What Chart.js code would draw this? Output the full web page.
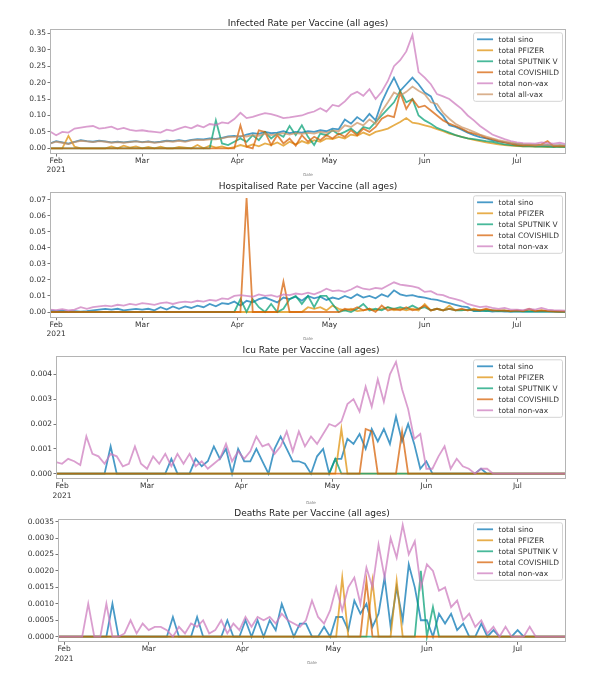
<!DOCTYPE html>
<html><head><meta charset="utf-8">
<script src="https://cdn.jsdelivr.net/npm/chart.js@4.4.1/dist/chart.umd.min.js"></script>
<style>
html,body{margin:0;padding:0;background:#fff;}
#wrap{position:relative;width:600px;height:674px;overflow:hidden;background:#fff;}
canvas{position:absolute;left:0;}
</style></head><body>
<div id="wrap">
<canvas id="c1" width="600" height="180" style="top:0px"></canvas>
<canvas id="c2" width="600" height="180" style="top:163px"></canvas>
<canvas id="c3" width="600" height="180" style="top:327px"></canvas>
<canvas id="c4" width="600" height="184" style="top:490px"></canvas>
</div>
<script>
// ---- categories (dates, every 2 days) ----
const dates = ['01-30','02-01','02-03','02-05','02-07','02-09','02-11','02-13','02-15','02-17',
'02-19','02-21','02-23','02-25','02-27','03-01','03-03','03-05','03-07','03-09',
'03-11','03-13','03-15','03-17','03-19','03-21','03-23','03-25','03-27','03-29',
'03-31','04-02','04-04','04-06','04-08','04-10','04-12','04-14','04-16','04-18',
'04-20','04-22','04-24','04-26','04-28','04-30','05-02','05-04','05-06','05-08',
'05-10','05-12','05-14','05-16','05-18','05-20','05-22','05-24','05-26','05-28',
'05-30','06-01','06-03','06-05','06-07','06-09','06-11','06-13','06-15','06-17',
'06-19','06-21','06-23','06-25','06-27','06-29','07-01','07-03','07-05','07-07',
'07-09','07-11','07-13','07-15','07-17'];
const monthTickDates = ['02-01','03-01','04-01','05-01','06-01','07-01'];
const monthTickLabels = [['Feb','2021'],'Mar','Apr','May','Jun','Jul'];
const seriesNames = ['total sino','total PFIZER','total SPUTNIK V','total COVISHILD','total non-vax','total all-vax'];

// ---- y tick labels ----
const yTicksInfected = [0,0.05,0.10,0.15,0.20,0.25,0.30,0.35];
const yTicksHosp = [0,0.01,0.02,0.03,0.04,0.05,0.06,0.07];
const yTicksIcu = [0,0.001,0.002,0.003,0.004];
const yTicksDeaths = [0,0.0005,0.0010,0.0015,0.0020,0.0025,0.0030,0.0035];

// ---- Infected ----
const infSino = [0.015,0.022,0.018,0.014,0.020,0.025,0.022,0.020,0.023,0.021,
0.018,0.020,0.018,0.020,0.022,0.019,0.021,0.018,0.020,0.023,
0.022,0.025,0.022,0.026,0.028,0.027,0.030,0.029,0.032,0.036,
0.038,0.035,0.042,0.046,0.044,0.050,0.046,0.048,0.052,0.046,
0.050,0.048,0.052,0.050,0.055,0.052,0.060,0.058,0.088,0.075,
0.095,0.082,0.105,0.085,0.140,0.180,0.215,0.175,0.195,0.215,
0.195,0.170,0.158,0.118,0.098,0.070,0.065,0.057,0.048,0.040,
0.034,0.030,0.025,0.021,0.018,0.015,0.013,0.011,0.010,0.010,
0.009,0.010,0.008,0.009,0.008];
const infPfizer = [0,0,0,0.038,0.005,0,0,0,0,0,
0.006,0,0.008,0.002,0.006,0,0.004,0,0.005,0,
0,0.004,0.002,0,0.010,0,0.008,0.002,0.006,0,
0.004,0.010,0.005,0.012,0.006,0.015,0.010,0.018,0.008,0.020,
0.012,0.022,0.015,0.025,0.020,0.030,0.028,0.035,0.030,0.042,
0.038,0.048,0.040,0.050,0.055,0.060,0.070,0.080,0.092,0.078,
0.075,0.070,0.065,0.058,0.052,0.045,0.040,0.035,0.030,0.026,
0.022,0.018,0.015,0.012,0.010,0.008,0.007,0.006,0.006,0.005,
0.005,0.004,0.005,0.004,0.004];
const infSputnik = [0,0,0,0,0,0,0,0,0,0,
0,0,0,0,0,0,0,0,0,0,
0,0,0,0,0,0,0,0.085,0.015,0.010,
0.020,0.030,0.020,0.040,0.025,0.050,0.030,0.045,0.035,0.068,
0.040,0.070,0.035,0.010,0.045,0.040,0.055,0.042,0.050,0.060,
0.045,0.065,0.060,0.080,0.100,0.120,0.140,0.175,0.140,0.150,
0.100,0.085,0.075,0.062,0.055,0.048,0.040,0.035,0.030,0.028,
0.025,0.022,0.020,0.016,0.012,0.010,0.008,0.006,0.007,0.005,
0.006,0.005,0.004,0.005,0.004];
const infCovishild = [0,0,0,0,0,0,0,0,0,0,
0,0,0,0,0,0,0,0,0,0,
0,0,0,0,0,0,0,0,0,0,
0,0.070,0.005,0,0.055,0.050,0.010,0.040,0.015,0.030,
0.008,0.040,0.020,0.035,0.025,0.040,0.030,0.045,0.035,0.055,
0.040,0.060,0.050,0.065,0.090,0.100,0.095,0.170,0.120,0.150,
0.125,0.130,0.115,0.100,0.085,0.075,0.068,0.060,0.050,0.045,
0.040,0.032,0.028,0.022,0.018,0.014,0.010,0.008,0.010,0.008,
0.012,0.022,0.006,0.008,0.006];
const infNonvax = [0.051,0.040,0.050,0.048,0.060,0.063,0.066,0.068,0.060,0.062,
0.066,0.058,0.062,0.056,0.053,0.055,0.052,0.050,0.048,0.057,
0.053,0.060,0.066,0.061,0.070,0.064,0.074,0.071,0.079,0.076,
0.089,0.108,0.092,0.096,0.102,0.107,0.104,0.099,0.092,0.094,
0.097,0.100,0.107,0.112,0.122,0.112,0.132,0.128,0.143,0.163,
0.172,0.160,0.180,0.150,0.172,0.205,0.250,0.268,0.295,0.345,
0.232,0.215,0.195,0.165,0.158,0.150,0.135,0.120,0.100,0.085,
0.068,0.055,0.042,0.035,0.028,0.022,0.018,0.016,0.015,0.014,
0.018,0.016,0.014,0.017,0.013];
const infAllvax = [0.014,0.020,0.017,0.013,0.019,0.023,0.021,0.019,0.022,0.020,
0.017,0.019,0.017,0.019,0.021,0.018,0.020,0.017,0.019,0.022,
0.020,0.023,0.020,0.024,0.026,0.025,0.027,0.027,0.030,0.035,
0.035,0.038,0.036,0.040,0.038,0.045,0.040,0.043,0.046,0.042,
0.046,0.044,0.047,0.045,0.050,0.047,0.054,0.052,0.070,0.065,
0.078,0.070,0.088,0.075,0.112,0.140,0.170,0.160,0.172,0.188,
0.175,0.165,0.140,0.135,0.108,0.090,0.075,0.065,0.058,0.050,
0.042,0.036,0.030,0.025,0.021,0.017,0.014,0.012,0.011,0.010,
0.010,0.010,0.009,0.009,0.008];

// ---- Hospitalised ----
const hospSino = [0.0010,0.0005,0.0008,0.0003,0.0005,0.0002,0.0005,0.0010,0.0015,0.0020,
0.0015,0.0020,0.0010,0.0015,0.0020,0.0015,0.0020,0.0010,0.0030,0.0015,
0.0035,0.0020,0.0035,0.0025,0.0040,0.0030,0.0050,0.0035,0.0055,0.0050,
0.0065,0.0040,0.0070,0.0060,0.0080,0.0090,0.0075,0.0060,0.0090,0.0080,
0.0095,0.0070,0.0100,0.0085,0.0095,0.0075,0.0090,0.0080,0.0100,0.0085,
0.0110,0.0090,0.0100,0.0085,0.0110,0.0095,0.0135,0.0110,0.0100,0.0105,
0.0095,0.0090,0.0080,0.0075,0.0065,0.0055,0.0045,0.0035,0.0030,0.0005,
0.0005,0.0008,0.0003,0.0005,0.0003,0.0004,0.0002,0.0003,0.0002,0.0002,
0.0003,0.0002,0.0002,0.0001,0.0001];
const hospPfizer = [0,0,0,0,0,0,0,0,0,0,
0,0,0,0,0,0,0,0,0,0,
0,0,0,0,0,0,0,0,0,0,
0,0,0,0,0,0,0,0,0,0,
0,0,0.003,0.002,0.003,0.001,0.004,0.002,0.001,0.002,
0.0005,0.001,0.002,0.001,0.002,0.003,0.001,0.002,0.001,0.002,
0.001,0.005,0.001,0.002,0.001,0.004,0.001,0.0015,0.001,0.002,
0.001,0.0015,0.001,0.0008,0.001,0.0005,0.0008,0.0005,0.0015,0.0005,
0.001,0.0005,0.0005,0.0003,0.0003];
const hospSputnik = [0,0,0,0,0,0,0,0,0,0,
0,0,0,0,0,0,0,0,0,0,
0,0,0,0,0,0,0,0,0,0,
0,0.008,0,0.008,0.003,0,0.005,0,0.002,0.008,
0.010,0.005,0.010,0.003,0.010,0.010,0.005,0,0.001,0,
0.002,0.005,0.001,0.002,0.001,0.003,0.002,0.003,0.002,0.004,
0.002,0.003,0.001,0.002,0.001,0.002,0.001,0.001,0.0015,0.0008,
0.001,0.0005,0.001,0.0005,0.0008,0.0003,0.0005,0.0003,0.0003,0.0002,
0.0003,0.0002,0.0002,0.0001,0.0001];
const hospCovishild = [0,0,0,0,0,0,0,0,0,0,
0,0,0,0,0,0,0,0,0,0,
0,0,0,0,0,0,0,0,0,0,
0,0,0.071,0,0,0,0,0,0.019,0,
0,0,0,0,0,0,0,0,0.002,0.001,
0.003,0.001,0.002,0,0.004,0.001,0.002,0.001,0.003,0.001,
0.002,0.004,0.001,0.002,0.001,0.002,0.001,0.002,0.001,0.0015,
0.001,0.002,0.001,0.001,0.0008,0.0005,0.001,0.0005,0.002,0.0005,
0.001,0.0005,0.0003,0.0003,0.0002];
const hospNonvax = [0.0015,0.0012,0.0018,0.0010,0.0015,0.0030,0.0020,0.0030,0.0035,0.0040,
0.0035,0.0045,0.0040,0.0050,0.0045,0.0055,0.0050,0.0045,0.0055,0.0060,
0.0050,0.0060,0.0065,0.0060,0.0070,0.0065,0.0075,0.0070,0.0085,0.0080,
0.0100,0.0105,0.0100,0.0095,0.0110,0.0100,0.0105,0.0095,0.0110,0.0105,
0.0115,0.0110,0.0120,0.0110,0.0125,0.0145,0.0130,0.0135,0.0125,0.0140,
0.0160,0.0145,0.0140,0.0150,0.0145,0.0165,0.0185,0.0170,0.0165,0.0160,
0.0150,0.0125,0.0130,0.0110,0.0105,0.0090,0.0080,0.0070,0.0050,0.0040,
0.0030,0.0035,0.0025,0.0020,0.0025,0.0015,0.0015,0.0012,0.0020,0.0015,
0.0025,0.0015,0.0012,0.0010,0.0008];

// ---- ICU ----
const icuSino = [0,0,0,0,0,0,0,0,0,0.0011,
0,0,0,0,0,0,0,0,0,0.0006,
0,0,0,0.0006,0.0003,0.0005,0.0011,0.0006,0.0010,0,
0.0010,0.0005,0.0005,0.0010,0.0005,0,0.0010,0.0015,0.0010,0.0005,
0.0005,0.0004,0,0.0007,0.0010,0,0.0006,0.0006,0.0014,0.0012,
0.0016,0.0010,0.0018,0.0013,0.0018,0.0012,0.0023,0.0013,0.0020,0.0012,
0.0002,0.0005,0,0,0,0,0,0,0,0,
0.0002,0,0,0,0,0,0,0,0,0,
0,0,0,0,0];
const icuPfizer = [0,0,0,0,0,0,0,0,0,0,
0,0,0,0,0,0,0,0,0,0,
0,0,0,0,0,0,0,0,0,0,
0,0,0,0,0,0,0,0,0,0,
0,0,0,0,0,0,0,0.0018,0,0,
0,0,0,0,0,0,0,0,0,0,
0,0,0,0,0,0,0,0,0,0,
0,0,0,0,0,0,0,0,0,0,
0,0,0,0,0];
const icuSputnik = [0,0,0,0,0,0,0,0,0,0,
0,0,0,0,0,0,0,0,0,0,
0,0,0,0,0,0,0,0,0,0,
0,0,0,0,0,0,0,0,0,0,
0,0,0,0,0,0,0.0006,0,0,0,
0,0,0,0,0,0,0,0,0,0,
0,0,0,0,0,0,0,0,0,0,
0,0,0,0,0,0,0,0,0,0,
0,0,0,0,0];
const icuCovishild = [0,0,0,0,0,0,0,0,0,0,
0,0,0,0,0,0,0,0,0,0,
0,0,0,0,0,0,0,0,0,0,
0,0,0,0,0,0,0,0,0,0,
0,0,0,0,0,0,0,0,0,0,
0,0.0018,0.0017,0,0,0,0,0.0017,0,0,
0,0,0,0,0,0,0,0,0,0,
0,0,0,0,0,0,0,0,0,0,
0,0,0,0,0];
const icuNonvax = [0.00047,0.00040,0.00060,0.00050,0.00035,0.00150,0.00080,0.00070,0.00040,0.00080,
0.00070,0.00030,0.00040,0.00110,0.00040,0.00020,0.00070,0.00040,0.00080,0.00030,
0.00080,0.00040,0.00080,0.00030,0.00050,0.00020,0.00040,0.00060,0.00120,0.00050,
0.00090,0.00060,0.00090,0.00150,0.00110,0.00120,0.00080,0.00110,0.00170,0.00090,
0.00170,0.00110,0.00150,0.00120,0.00160,0.00200,0.00190,0.00210,0.00280,0.00300,
0.00250,0.00350,0.00270,0.00380,0.00290,0.00400,0.00450,0.00340,0.00260,0.00140,
0.00160,0.00020,0.00020,0.00070,0.00110,0.00020,0.00060,0.00030,0.00020,0,
0.00020,0.00020,0,0,0,0,0,0,0,0,
0,0,0,0,0];

// ---- Deaths ----
const deathsSino = [0,0,0,0,0,0,0,0,0,0.0010,
0,0,0,0,0,0,0,0,0,0.0006,
0,0,0,0.0006,0,0,0,0,0.0005,0,
0,0.0005,0,0.0005,0,0.0005,0.0002,0.0010,0.0005,0,
0.0004,0.0004,0,0,0.0003,0,0.0006,0.0006,0.0002,0.0011,
0.0007,0.0010,0.0003,0.0007,0.0018,0.0003,0.0015,0.0005,0.0022,0.0015,
0.0005,0.0005,0,0.0007,0.0004,0.0007,0.0002,0.0004,0,0,
0.0004,0,0.0002,0,0,0,0.0002,0,0,0,
0,0,0,0,0];
const deathsPfizer = [0,0,0,0,0,0,0,0,0,0,
0,0,0,0,0,0,0,0,0,0,
0,0,0,0,0,0,0,0,0,0,
0,0,0,0,0,0,0,0,0,0,
0,0,0,0,0,0,0,0.0018,0,0,
0,0,0.0017,0,0,0,0.0017,0,0,0,
0,0,0,0,0,0,0,0,0,0,
0,0,0,0,0,0,0,0,0,0,
0,0,0,0,0];
const deathsSputnik = [0,0,0,0,0,0,0,0,0,0,
0,0,0,0,0,0,0,0,0,0,
0,0,0,0,0,0,0,0,0,0,
0,0,0,0,0,0,0,0,0,0,
0,0,0,0,0,0,0,0,0,0,
0,0,0,0,0,0,0,0,0,0,
0.0020,0,0.0009,0,0,0,0,0,0,0,
0,0,0,0,0,0,0,0,0,0,
0,0,0,0,0];
const deathsCovishild = [0,0,0,0,0,0,0,0,0,0,
0,0,0,0,0,0,0,0,0,0,
0,0,0,0,0,0,0,0,0,0,
0,0,0,0,0,0,0,0,0,0,
0,0,0,0,0,0,0,0,0,0,
0,0.0017,0,0,0,0,0,0,0,0,
0,0,0,0,0,0,0,0,0,0,
0,0,0,0,0,0,0,0,0,0,
0,0,0,0,0];
const deathsNonvax = [0,0,0,0,0,0.0010,0,0,0.0010,0,
0,0.0001,0.0005,0.0001,0.0004,0.0002,0.0003,0.0003,0.0002,0,
0.0003,0.0001,0.0004,0.0003,0.0005,0.0001,0.0002,0.0005,0.0001,0.0004,
0.0002,0.0006,0.0003,0.0006,0.0005,0.0006,0.0004,0.0007,0.0005,0.0004,
0.0003,0.0005,0.0011,0.0006,0.0004,0.0008,0.0015,0.0008,0.0015,0.0018,
0.0010,0.0021,0.0015,0.0028,0.0018,0.0030,0.0024,0.0034,0.0025,0.0029,
0.0015,0.0022,0.0020,0.0014,0.0015,0.0009,0.0011,0.0005,0.0007,0.0003,
0.0005,0.0001,0.0003,0,0.0003,0,0,0,0.0003,0,
0,0,0,0,0];

// ---- rendering ----
const FONT = 'DejaVu Sans';
Chart.defaults.font.family = FONT;
const dayOf = s => Math.round((Date.parse('2021-' + s) - Date.parse('2021-01-30')) / 864e5);
const days = dates.map(dayOf);
const monthDays = monthTickDates.map(dayOf);
const lineColors = ['rgba(1,115,178,0.72)','rgba(222,143,5,0.72)','rgba(2,158,115,0.72)',
  'rgba(213,94,0,0.72)','rgba(204,120,188,0.72)','rgba(202,145,97,0.72)'];

const framePlugin = {
  id: 'frame',
  afterDatasetsDraw(chart) {
    const {ctx, chartArea: a} = chart;
    const l = Math.round(a.left), t = Math.round(a.top), r = Math.round(a.right), b = Math.round(a.bottom);
    ctx.save();
    ctx.strokeStyle = '#b4b4b4'; ctx.lineWidth = 1;
    ctx.strokeRect(l + 0.5, t + 0.5, r - l - 1, b - t - 1);
    ctx.restore();
  }
};
const innerLegend = {
  id: 'innerLegend',
  afterDraw(chart) {
    const ctx = chart.ctx, a = chart.chartArea, ds = chart.data.datasets;
    ctx.save();
    ctx.font = '7.5px "' + FONT + '"';
    let maxW = 0;
    ds.forEach(d => { maxW = Math.max(maxW, ctx.measureText(d.label).width); });
    const rowH = 11, pad = 3.5, handle = 16, gap = 5.5;
    const w = pad + handle + gap + maxW + pad;
    const right = a.right - 3.5, left = right - w, top = a.top + 3.5;
    const h = 6.5 + (ds.length - 1) * rowH + 7;
    ctx.beginPath();
    if (ctx.roundRect) ctx.roundRect(left, top, w, h, 2); else ctx.rect(left, top, w, h);
    ctx.fillStyle = 'rgba(255,255,255,0.85)'; ctx.fill();
    ctx.strokeStyle = '#d4d4d4'; ctx.lineWidth = 1; ctx.stroke();
    ds.forEach((d, i) => {
      const y = top + 6.5 + i * rowH;
      ctx.beginPath(); ctx.moveTo(left + pad, y); ctx.lineTo(left + pad + handle, y);
      ctx.strokeStyle = d.borderColor; ctx.lineWidth = 1.8; ctx.stroke();
      ctx.fillStyle = '#333'; ctx.textBaseline = 'middle'; ctx.textAlign = 'left';
      ctx.fillText(d.label, left + pad + handle + gap, y + 0.5);
    });
    ctx.restore();
  }
};

function makePanel(id, title, series, yTicks, decimals, axisW, axisH, padBottom) {
  let mx = -Infinity, mn = Infinity;
  series.forEach(s => s.forEach(v => { mx = Math.max(mx, v); mn = Math.min(mn, v); }));
  const m = (mx - mn) * 0.05;
  const n = series.length;
  const datasets = series.map((s, i) => ({
    label: seriesNames[i],
    data: s.map((v, k) => ({x: days[k], y: v})),
    borderColor: lineColors[i],
    backgroundColor: lineColors[i],
    borderWidth: 1.8,
    pointRadius: 0,
    tension: 0,
    fill: false,
    order: n - i
  }));
  const tickFont = {family: FONT, size: 7.5};
  new Chart(document.getElementById(id), {
    type: 'line',
    data: {datasets},
    options: {
      responsive: false, animation: false, devicePixelRatio: 1,
      layout: {padding: {left: 0, right: 34, top: 0, bottom: padBottom}},
      plugins: {
        legend: {display: false},
        tooltip: {enabled: false},
        title: {display: true, text: title, fullSize: false, color: '#222',
          font: {family: FONT, size: 9, weight: 'normal', lineHeight: 1.2},
          padding: {top: 18.5, bottom: 0}}
      },
      scales: {
        x: {
          type: 'linear', min: 0, max: days[days.length - 1],
          afterBuildTicks: s => { s.ticks = monthDays.map(v => ({value: v})); },
          afterFit: s => { s.height = axisH; },
          ticks: {callback: (v, i) => monthTickLabels[i], autoSkip: false, maxRotation: 0,
            font: {family: FONT, size: 7.5, lineHeight: 1.25}, color: '#333', padding: -0.3},
          grid: {display: true, drawOnChartArea: false, drawTicks: true, tickLength: 2.5, color: '#777'},
          border: {display: false},
          title: {display: true, text: 'Date', color: '#777', font: {family: FONT, size: 4}, padding: 0}
        },
        y: {
          type: 'linear', min: mn - m, max: mx + m,
          afterBuildTicks: s => { s.ticks = yTicks.map(v => ({value: v})); },
          afterFit: s => { s.width = axisW; },
          ticks: {callback: v => Number(v).toFixed(decimals), font: tickFont, color: '#333', padding: 1.5},
          grid: {display: true, drawOnChartArea: false, drawTicks: true, tickLength: 2.5, color: '#777'},
          border: {display: false}
        }
      }
    },
    plugins: [framePlugin, innerLegend]
  });
}

makePanel('c1', 'Infected Rate per Vaccine (all ages)',
  [infSino, infPfizer, infSputnik, infCovishild, infNonvax, infAllvax], yTicksInfected, 2, 50, 23.4, 2.6);
makePanel('c2', 'Hospitalised Rate per Vaccine (all ages)',
  [hospSino, hospPfizer, hospSputnik, hospCovishild, hospNonvax], yTicksHosp, 2, 50, 23.7, 1.6);
makePanel('c3', 'Icu Rate per Vaccine (all ages)',
  [icuSino, icuPfizer, icuSputnik, icuCovishild, icuNonvax], yTicksIcu, 3, 56, 25.8, 1.9);
makePanel('c4', 'Deaths Rate per Vaccine (all ages)',
  [deathsSino, deathsPfizer, deathsSputnik, deathsCovishild, deathsNonvax], yTicksDeaths, 4, 58, 23.4, 8.3);
</script>
</body></html>
